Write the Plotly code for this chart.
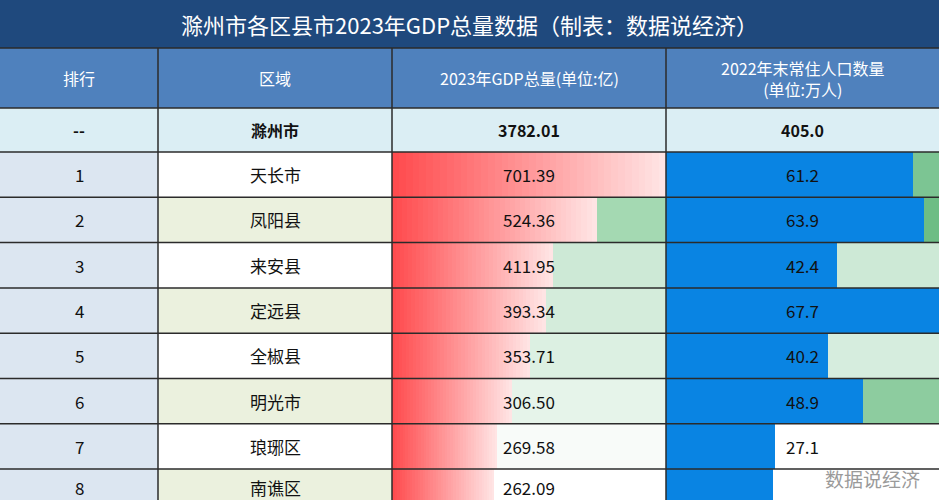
import plotly.graph_objects as go

ranks = ["1", "2", "3", "4", "5", "6", "7", "8"]
regions = ["天长市", "凤阳县", "来安县", "定远县", "全椒县", "明光市", "琅琊区", "南谯区"]
gdp = [701.39, 524.36, 411.95, 393.34, 353.71, 306.50, 269.58, 262.09]
pop = [61.2, 63.9, 42.4, 67.7, 40.2, 48.9, 27.1, 26.5]
pop_labels = ["61.2", "63.9", "42.4", "67.7", "40.2", "48.9", "27.1", ""]
total_gdp = "3782.01"
total_pop = "405.0"
title = "滁州市各区县市2023年GDP总量数据（制表：数据说经济）"
headers = ["排行", "区域", "2023年GDP总量(单位:亿)", "2022年末常住人口数量<br>(单位:万人)"]

# layout / style
W, H = 939, 500
cols = [0, 158, 392, 666, 939]
title_h, head_b, total_b, row_h = 48, 108, 152, 45.3
gdp_bg = [None, "#a4d9b2", "#cde9d6", "#d4ecdb", "#dcf0e2", "#e6f4ea", "#f8fbf9", "#ffffff"]
pop_bg = ["#7cc593", "#6dbd85", "#cde9d6", "#cde9d6", "#d6edde", "#8dcc9f", "#ffffff", "#ffffff"]
region_bg = ["#ffffff", "#ebf1de"]
font = "Noto Sans CJK SC"

fig = go.Figure()
shapes, ann = [], []
px = lambda x: x / W
py = lambda y: 1 - y / H

def rect(x0, y0, x1, y1, c, layer="below"):
    shapes.append(dict(type="rect", xref="paper", yref="paper", x0=px(x0), x1=px(x1),
                       y0=py(y0), y1=py(y1), fillcolor=c, line=dict(width=0), layer=layer))

def text(x, y, t, size=17, color="#111", bold=False):
    ann.append(dict(x=px(x), y=py(y), xref="paper", yref="paper", xanchor="center",
                    yanchor="middle", text=f"<b>{t}</b>" if bold else t, showarrow=False,
                    font=dict(family=font, size=size, color=color)))

rect(0, 0, W, title_h, "#1f497d")
text(W / 2, title_h / 2, title, 22, "white")
rect(0, title_h, W, head_b, "#4f81bd")
for i, h in enumerate(headers):
    text((cols[i] + cols[i + 1]) / 2, (title_h + head_b) / 2, h, 16, "white")
rect(0, head_b, W, total_b, "#dbeef4")
for i, t in enumerate(["--", "滁州市", total_gdp, total_pop]):
    text((cols[i] + cols[i + 1]) / 2, (head_b + total_b) / 2, t, 16, "#111", True)

centers = []
for i in range(len(ranks)):
    y0 = total_b + i * row_h
    y1 = y0 + row_h
    yc = (y0 + y1) / 2
    centers.append(yc)
    rect(cols[0], y0, cols[1], y1, "#dce6f1")
    rect(cols[1], y0, cols[2], y1, region_bg[i % 2])
    if gdp_bg[i]:
        rect(cols[2], y0, cols[3], y1, gdp_bg[i])
    rect(cols[3], y0, cols[4], y1, pop_bg[i])
    ty = min(yc, 487)
    text((cols[0] + cols[1]) / 2, ty, ranks[i])
    text((cols[1] + cols[2]) / 2, ty, regions[i])
    text((cols[2] + cols[3]) / 2, ty, f"{gdp[i]:.2f}")
    text((cols[3] + cols[4]) / 2, ty, pop_labels[i])

# gradient GDP bars
N = 40
def lerp(a, b, t):
    return "#%02x%02x%02x" % tuple(round(a[k] + (b[k] - a[k]) * t) for k in range(3))
c0, c1 = (255, 75, 78), (255, 228, 228)
for k in range(N):
    fig.add_trace(go.Bar(orientation="h", x=[g / N for g in gdp], y=centers, width=row_h,
                         marker=dict(color=lerp(c0, c1, k / (N - 1)), line=dict(width=0)),
                         xaxis="x2", yaxis="y", hoverinfo="skip", showlegend=False))
fig.add_trace(go.Bar(orientation="h", x=pop, y=centers, width=row_h,
                     marker=dict(color="#0984e3", line=dict(width=0)),
                     xaxis="x3", yaxis="y", hoverinfo="skip", showlegend=False))

# grid lines
lc = "#2b2b2b"
ys = [title_h, head_b, total_b] + [total_b + (i + 1) * row_h for i in range(len(ranks))]
for y in ys:
    shapes.append(dict(type="line", xref="paper", yref="paper", x0=0, x1=1, y0=py(y), y1=py(y),
                       line=dict(color=lc, width=1.5), layer="above"))
for x in cols[1:-1]:
    shapes.append(dict(type="line", xref="paper", yref="paper", x0=px(x), x1=px(x),
                       y0=py(title_h), y1=0, line=dict(color=lc, width=1.5), layer="above"))

text(872, 478, "数据说经济", 19, "#9a9a9a")

ax = dict(visible=False, fixedrange=True)
fig.update_layout(
    width=W, height=H, margin=dict(l=0, r=0, t=0, b=0), barmode="stack", bargap=0,
    plot_bgcolor="rgba(0,0,0,0)", paper_bgcolor="white",
    xaxis2=dict(range=[0, max(gdp)], domain=[cols[2] / W, cols[3] / W], anchor="y", **ax),
    xaxis3=dict(range=[0, max(pop)], domain=[cols[3] / W, cols[4] / W], anchor="y", **ax),
    yaxis=dict(range=[H, 0], anchor="x2", **ax),
    shapes=shapes, annotations=ann,
)
fig.write_html("out.html", config={"displayModeBar": False},
               post_script="document.body.style.margin='0';document.body.style.overflow='hidden';")
